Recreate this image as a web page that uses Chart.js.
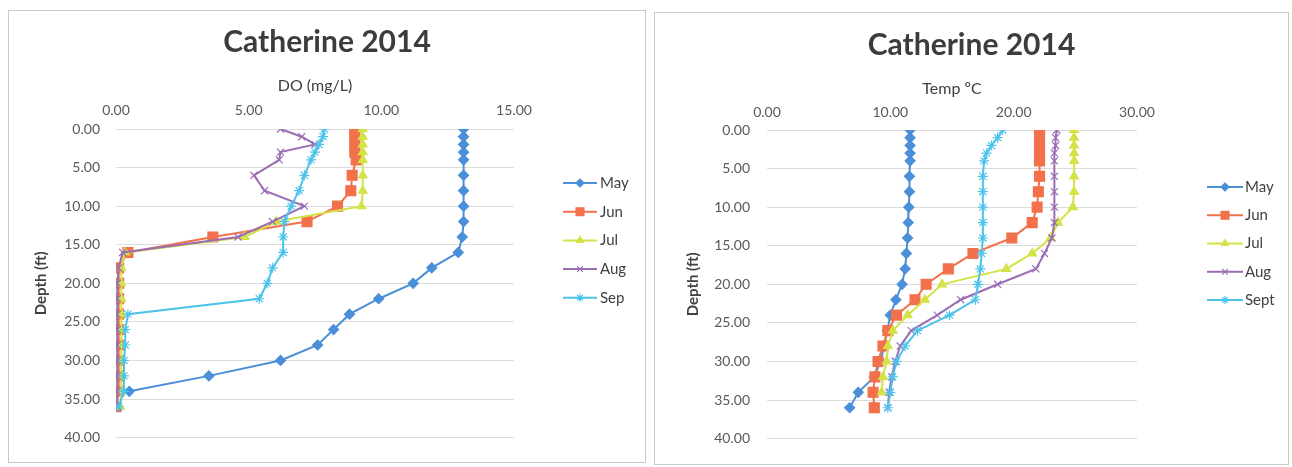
<!DOCTYPE html>
<html>
<head>
<meta charset="utf-8">
<script src="https://cdn.jsdelivr.net/npm/chart.js@4.4.0/dist/chart.umd.min.js"></script>
<style>
  html, body { margin: 0; padding: 0; background: #fff; }
  body { width: 1292px; height: 467px; position: relative; overflow: hidden; }
  .panel { position: absolute; border: 1px solid #c9c9c9; background: #fff; }
  .panel canvas { display: block; }
</style>
</head>
<body>
<div class="panel" style="left:8px;top:10px;width:636px;height:451px"><canvas id="doChart" width="636" height="451"></canvas></div>
<div class="panel" style="left:654px;top:12px;width:633px;height:451px"><canvas id="tempChart" width="633" height="451"></canvas></div>
<script>
// Sampling depths (ft) shared by every profile
const depthFt = [0, 1, 2, 3, 4, 6, 8, 10, 12, 14, 16, 18, 20, 22, 24, 26, 28, 30, 32, 34, 36];

// Dissolved oxygen (mg/L) per month
const doMay = [13.1, 13.1, 13.1, 13.1, 13.1, 13.1, 13.1, 13.1, 13.1, 13.05, 12.9, 11.9, 11.2, 9.9, 8.8, 8.2, 7.6, 6.2, 3.5, 0.5, null];
const doJun = [9.0, 9.0, 9.0, 9.0, 9.05, 8.9, 8.85, 8.35, 7.2, 3.65, 0.45, 0.1, 0.1, 0.1, 0.1, 0.1, 0.1, 0.1, 0.1, 0.1, 0.0];
const doJul = [9.3, 9.3, 9.3, 9.3, 9.3, 9.3, 9.3, 9.25, 6.05, 4.85, 0.35, 0.2, 0.2, 0.2, 0.2, 0.2, 0.2, 0.2, 0.2, 0.2, 0.15];
const doAug = [6.2, 7.0, 7.5, 6.2, 6.15, 5.2, 5.6, 7.1, 5.9, 4.6, 0.25, 0.1, 0.05, 0.05, 0.05, 0.05, 0.05, 0.05, 0.05, 0.05, 0.05];
const doSep = [7.85, 7.8, 7.65, 7.5, 7.35, 7.1, 6.9, 6.6, 6.35, 6.3, 6.3, 5.9, 5.7, 5.4, 0.45, 0.35, 0.35, 0.3, 0.3, 0.3, 0.1];

// Water temperature (ºC) per month
const tempMay = [11.6, 11.6, 11.6, 11.6, 11.6, 11.55, 11.55, 11.5, 11.45, 11.4, 11.3, 11.2, 10.95, 10.45, 10.0, 9.75, 9.5, 9.2, 8.7, 7.4, 6.7];
const tempJun = [22.1, 22.1, 22.1, 22.1, 22.1, 22.1, 22.0, 21.9, 21.5, 19.85, 16.7, 14.7, 12.9, 12.0, 10.5, 9.8, 9.4, 9.0, 8.75, 8.6, 8.7];
const tempJul = [24.9, 24.9, 24.9, 24.9, 24.9, 24.9, 24.9, 24.8, 23.6, 23.0, 21.5, 19.4, 14.2, 12.8, 11.4, 10.2, 9.8, 9.7, 9.4, 9.3, null];
const tempAug = [23.5, 23.4, 23.4, 23.3, 23.3, 23.3, 23.3, 23.3, 23.3, 23.1, 22.5, 21.8, 18.7, 15.7, 13.8, 11.7, 10.8, 10.4, 10.1, 9.9, 9.8];
const tempSep = [19.1, 18.7, 18.2, 17.8, 17.6, 17.5, 17.5, 17.5, 17.5, 17.5, 17.4, 17.3, 17.1, 16.9, 14.8, 12.2, 11.2, 10.5, 10.2, 10.0, 9.8];

const doLabels = ['May', 'Jun', 'Jul', 'Aug', 'Sep'];
const tempLabels = ['May', 'Jun', 'Jul', 'Aug', 'Sept'];

// Axis ranges and tick spacing
const doRange = [0, 15, 5];
const tempRange = [0, 30, 10];
const depthRange = [0, 40, 5];

const seriesStyle = [
  { color: '#4a8fd8', pointStyle: 'rectRot', radius: 5 },
  { color: '#f2714b', pointStyle: 'rect', radius: 7 },
  { color: '#d3e244', pointStyle: 'triangle', radius: 5 },
  { color: '#9a6db3', pointStyle: 'crossRot', radius: 5 },
  { color: '#4cc3ea', pointStyle: 'star', radius: 5 }
];

const FONT = 'Lato';

function profile(values) {
  const pts = [];
  values.forEach((v, i) => { if (v !== null) pts.push({ x: v, y: depthFt[i] }); });
  return pts;
}

function buildDatasets(labels, series) {
  return series.map((vals, i) => {
    const s = seriesStyle[i];
    return {
      label: labels[i],
      data: profile(vals),
      xAxisID: 'x',
      yAxisID: 'y',
      borderColor: s.color,
      backgroundColor: s.color,
      borderWidth: 2,
      pointStyle: s.pointStyle,
      pointRadius: s.radius,
      pointBackgroundColor: s.color,
      pointBorderColor: s.color,
      pointBorderWidth: 1.2,
      tension: 0,
      order: series.length - 1 - i
    };
  });
}

// Legend drawn at the right of the plot: a line sample with its marker, then the label
const sideLegend = {
  id: 'sideLegend',
  afterDraw(chart, args, opts) {
    const ctx = chart.ctx;
    ctx.save();
    chart.data.datasets.forEach((ds, i) => {
      const y = opts.top + i * opts.step;
      ctx.strokeStyle = ds.borderColor;
      ctx.fillStyle = ds.backgroundColor;
      ctx.lineWidth = ds.borderWidth;
      ctx.beginPath();
      ctx.moveTo(opts.x, y);
      ctx.lineTo(opts.x + opts.len, y);
      ctx.stroke();
      const cx = opts.x + opts.len / 2;
      ctx.lineWidth = ds.pointBorderWidth;
      if (Chart.helpers && Chart.helpers.drawPoint) {
        Chart.helpers.drawPoint(ctx, {
          pointStyle: ds.pointStyle,
          radius: ds.pointRadius * 0.8,
          rotation: 0,
          borderWidth: ds.pointBorderWidth
        }, cx, y);
      }
      ctx.fillStyle = '#404040';
      ctx.font = opts.font;
      ctx.textAlign = 'left';
      ctx.textBaseline = 'middle';
      ctx.fillText(ds.label, opts.textX, y);
    });
    ctx.restore();
  }
};

function makeProfileChart(canvasId, geo, xTitle, xRange, labels, series) {
  const tickFont = { family: FONT, size: 14 };
  return new Chart(document.getElementById(canvasId), {
    type: 'line',
    data: { datasets: buildDatasets(labels, series) },
    options: {
      responsive: false,
      animation: false,
      devicePixelRatio: 1,
      layout: { padding: { left: 0, right: 0, top: 0, bottom: geo.padBottom } },
      plugins: {
        legend: { display: false },
        tooltip: { enabled: false },
        title: {
          display: true,
          text: 'Catherine 2014',
          color: '#3c3c3c',
          font: { family: FONT, size: 30, weight: 'bold', lineHeight: 1.3 },
          padding: { top: geo.titleTop, bottom: 0 }
        },
        sideLegend: geo.legend
      },
      scales: {
        x: {
          type: 'linear',
          position: 'top',
          min: xRange[0],
          max: xRange[1],
          ticks: {
            stepSize: xRange[2],
            callback: v => Number(v).toFixed(2),
            font: tickFont,
            color: '#595959',
            padding: geo.xTickPad,
            maxRotation: 0
          },
          grid: { display: false, drawTicks: false },
          border: { display: false },
          title: {
            display: true,
            text: xTitle,
            color: '#404040',
            font: { family: FONT, size: 16 },
            padding: { top: geo.xTitlePad, bottom: 0 }
          },
          afterFit: s => { s.height = geo.xAxisHeight; }
        },
        y: {
          type: 'linear',
          position: 'left',
          reverse: true,
          min: depthRange[0],
          max: depthRange[1],
          ticks: {
            stepSize: depthRange[2],
            callback: v => Number(v).toFixed(2),
            font: tickFont,
            color: '#595959',
            padding: geo.yTickPad
          },
          grid: { color: '#dcdcdc', lineWidth: 1, drawTicks: false },
          border: { display: false },
          title: {
            display: true,
            text: 'Depth (ft)',
            color: '#404040',
            font: { family: FONT, size: 15, weight: 'bold' },
            padding: { top: geo.yTitlePad, bottom: 0 }
          },
          afterFit: s => { s.width = geo.yAxisWidth; }
        },
        legendRoom: {
          type: 'linear',
          position: 'right',
          display: true,
          grid: { display: false, drawTicks: false },
          border: { display: false },
          ticks: { display: false },
          afterFit: s => { s.width = geo.rightRoom; }
        }
      }
    },
    plugins: [sideLegend]
  });
}

makeProfileChart('doChart', {
  padBottom: 13, titleTop: 12, xAxisHeight: 67, xTickPad: 10, xTitlePad: 14,
  yAxisWidth: 107, yTickPad: 16, yTitlePad: 23, rightRoom: 131,
  legend: { x: 554, len: 34, textX: 591, top: 172, step: 28.7, font: '15px Lato' }
}, 'DO (mg/L)', doRange, doLabels, [doMay, doJun, doJul, doAug, doSep]);

makeProfileChart('tempChart', {
  padBottom: 13, titleTop: 13, xAxisHeight: 65, xTickPad: 9, xTitlePad: 14,
  yAxisWidth: 112, yTickPad: 17, yTitlePad: 29, rightRoom: 151,
  legend: { x: 552, len: 36, textX: 590, top: 174, step: 28.25, font: '15px Lato' }
}, 'Temp ºC', tempRange, tempLabels, [tempMay, tempJun, tempJul, tempAug, tempSep]);
</script>
</body>
</html>
